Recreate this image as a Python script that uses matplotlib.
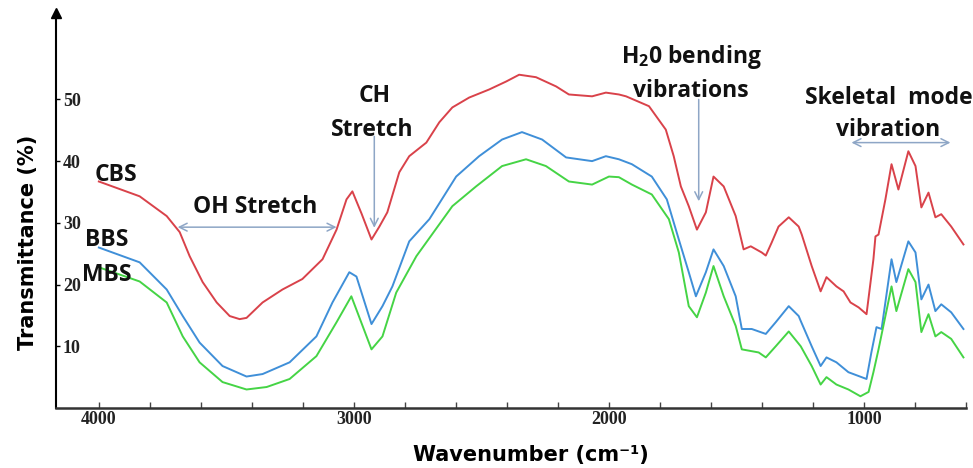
import numpy as np
import matplotlib
matplotlib.use('Agg')
import matplotlib.pyplot as plt

plt.rcParams['mathtext.fontset'] = 'custom'
plt.rcParams['mathtext.rm'] = 'Open Sans:bold'
plt.rcParams['mathtext.bf'] = 'Open Sans:bold'

# FTIR spectra (wavenumber cm-1, transmittance %)
cbs_wn = [4000, 3840, 3734, 3683, 3644, 3593, 3538, 3487, 3448, 3421, 3358, 3280, 3202,
          3123, 3068, 3029, 3006, 2970, 2931, 2900, 2869, 2822, 2783, 2716, 2665, 2614,
          2548, 2470, 2403, 2352, 2286, 2207, 2157, 2066, 2012, 1961, 1933, 1843, 1777,
          1746, 1718, 1687, 1655, 1620, 1590, 1550, 1503, 1472, 1444, 1401, 1385, 1362,
          1335, 1295, 1256, 1244, 1205, 1170, 1147, 1108, 1080, 1053, 1021, 990, 963,
          955, 943, 916, 892, 865, 826, 798, 775, 747, 720, 697, 658, 610]
cbs_t = [36.7, 34.3, 31.1, 28.5, 24.6, 20.4, 17.1, 14.9, 14.4, 14.6, 17.1, 19.2, 20.9,
         24.1, 28.9, 33.8, 35.1, 31.5, 27.3, 29.4, 31.7, 38.2, 40.8, 43.0, 46.3, 48.7,
         50.3, 51.6, 52.9, 54.0, 53.6, 52.1, 50.8, 50.5, 51.1, 50.8, 50.5, 48.9, 45.1,
         40.8, 35.9, 32.7, 28.9, 31.7, 37.5, 35.9, 31.1, 25.7, 26.2, 25.2, 24.7, 26.8,
         29.4, 30.9, 29.4, 28.1, 23.0, 18.9, 21.2, 19.7, 18.9, 17.1, 16.3, 15.2, 24.1,
         27.8, 28.1, 33.8, 39.5, 35.4, 41.6, 39.2, 32.5, 34.9, 30.9, 31.4, 29.4, 26.5]

bbs_wn = [4000, 3840, 3734, 3671, 3605, 3515, 3421, 3358, 3252, 3147, 3084, 3018, 2990,
          2931, 2888, 2849, 2783, 2704, 2599, 2509, 2419, 2341, 2262, 2168, 2066, 2012,
          1961, 1910, 1832, 1773, 1726, 1687, 1659, 1620, 1590, 1550, 1503, 1479, 1440,
          1385, 1346, 1295, 1256, 1248, 1205, 1170, 1147, 1108, 1061, 990, 971, 951, 931,
          892, 873, 826, 798, 775, 747, 720, 697, 658, 610]
bbs_t = [26.0, 23.6, 19.2, 14.9, 10.6, 6.8, 5.1, 5.5, 7.4, 11.6, 17.1, 22.0, 21.3,
         13.6, 16.5, 19.7, 27.0, 30.6, 37.5, 40.8, 43.5, 44.7, 43.5, 40.6, 40.0, 40.8,
         40.3, 39.5, 37.5, 33.8, 27.3, 22.0, 18.1, 22.0, 25.7, 23.0, 18.1, 12.8, 12.8,
         12.0, 13.9, 16.5, 14.9, 14.1, 10.0, 6.8, 8.2, 7.4, 5.8, 4.7, 9.0, 13.1, 12.8,
         24.1, 20.4, 27.0, 25.2, 17.6, 20.0, 15.7, 16.8, 15.5, 12.8]

mbs_wn = [4000, 3840, 3734, 3671, 3605, 3515, 3421, 3342, 3252, 3147, 3068, 3010, 2931,
          2888, 2834, 2755, 2614, 2521, 2419, 2325, 2247, 2157, 2066, 2000, 1961, 1910,
          1832, 1765, 1726, 1687, 1655, 1620, 1590, 1550, 1503, 1479, 1413, 1385, 1346,
          1295, 1248, 1205, 1170, 1147, 1108, 1061, 1014, 982, 963, 943, 892, 873, 826,
          798, 775, 747, 720, 697, 658, 610]
mbs_t = [22.8, 20.5, 17.1, 11.6, 7.4, 4.2, 3.0, 3.4, 4.7, 8.4, 13.9, 18.1, 9.5,
         11.6, 18.7, 24.6, 32.7, 35.9, 39.2, 40.3, 39.2, 36.7, 36.2, 37.5, 37.4, 36.2,
         34.6, 30.6, 25.2, 16.5, 14.7, 18.7, 23.0, 18.1, 13.3, 9.5, 9.0, 8.2, 10.0,
         12.4, 10.0, 6.8, 3.8, 5.0, 3.8, 3.0, 1.9, 2.6, 5.8, 9.5, 19.7, 15.7, 22.5,
         20.4, 12.3, 15.2, 11.6, 12.3, 11.2, 8.2]

xticks_major = [4000, 3000, 2000, 1000]
yticks = [10, 20, 30, 40, 50]

red = '#d9424a'
blue = '#3f8fd8'
green = '#45d445'
arrow_col = '#8ea6c6'
ann_font = ['Open Sans', 'DejaVu Sans']

fig = plt.figure(figsize=(9.73, 4.68), dpi=100)
ax = fig.add_axes([56/973, 60/468, 910/973, 395/468])

ax.plot(cbs_wn, cbs_t, color=red, lw=1.4)
ax.plot(bbs_wn, bbs_t, color=blue, lw=1.4)
ax.plot(mbs_wn, mbs_t, color=green, lw=1.4)

ax.set_xlim(4168, 600)
ax.set_ylim(0, 64)

for s in ['top', 'right']:
    ax.spines[s].set_visible(False)
ax.spines['left'].set_linewidth(1.5)
ax.spines['bottom'].set_linewidth(1.8)
ax.spines['bottom'].set_color('#333333')
# arrow head on the y axis
ax.plot(0, 1, marker='^', color='black', markersize=7, transform=ax.transAxes, clip_on=False)

ax.set_xticks(xticks_major)
ax.set_xticks(np.arange(600, 4001, 200), minor=True)
ax.tick_params(axis='x', which='both', direction='in', length=4, width=1, color='#444444', pad=2)
for lab in ax.get_xticklabels():
    lab.set_fontfamily('Liberation Serif')
    lab.set_fontweight('bold')
    lab.set_fontsize(13)
    lab.set_color('#222222')

ax.set_yticks(yticks)
ax.tick_params(axis='y', direction='in', length=3, width=1, pad=-5)
for lab in ax.get_yticklabels():
    lab.set_horizontalalignment('left')
    lab.set_fontfamily('Liberation Serif')
    lab.set_fontweight('bold')
    lab.set_fontsize(13)
    lab.set_color('#222222')

fig.text(0.029, 0.483, 'Transmittance (%)', rotation=90, ha='center', va='center',
         fontsize=15, fontweight='bold', family='DejaVu Sans')
fig.text(0.546, 0.028, 'Wavenumber (cm\u207b\u00b9)', ha='center', va='center',
         fontsize=15, fontweight='bold', family='DejaVu Sans')

# series labels
tk = dict(fontsize=16.5, fontweight='bold', family=ann_font, color='#111111', clip_on=False)
ax.text(4016, 37.8, 'CBS', ha='left', va='center', **tk)
ax.text(4055, 27.3, 'BBS', ha='left', va='center', **tk)
ax.text(4067, 21.5, 'MBS', ha='left', va='center', **tk)

# band annotations
ax.text(3386, 32.5, 'OH Stretch', ha='center', va='center', **tk)
ax.text(2920, 50.6, 'CH', ha='center', va='center', **tk)
ax.text(2928, 45.1, 'Stretch', ha='center', va='center', **tk)
ax.text(1675, 56.8, r'H$_{2}$0 bending', ha='center', va='center', **tk)
ax.text(1679, 51.3, 'vibrations', ha='center', va='center', **tk)
ax.text(904, 50.3, 'Skeletal  mode', ha='center', va='center', **tk)
ax.text(904, 45.1, 'vibration', ha='center', va='center', **tk)

ap = dict(color=arrow_col, lw=1.1, mutation_scale=14, shrinkA=0, shrinkB=0)
ax.annotate('', xy=(3068, 29.3), xytext=(3691, 29.3), arrowprops=dict(arrowstyle='<->', **ap))
ax.annotate('', xy=(2920, 29.2), xytext=(2920, 44.0), arrowprops=dict(arrowstyle='->', **ap))
ax.annotate('', xy=(1648, 33.5), xytext=(1648, 50.0), arrowprops=dict(arrowstyle='->', **ap))
ax.annotate('', xy=(661, 43.0), xytext=(1049, 43.0), arrowprops=dict(arrowstyle='<->', **ap))

fig.savefig('out.png', dpi=100)
